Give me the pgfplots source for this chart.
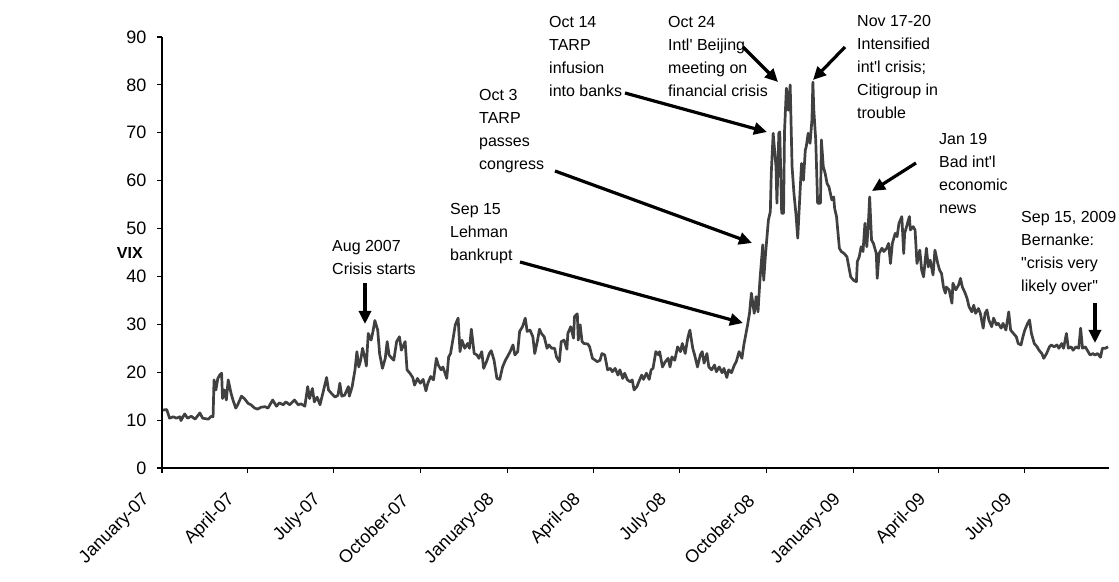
\documentclass[border=0pt]{standalone}
\usepackage{fontspec}
\setmainfont{Liberation Sans}[Ligatures=TeXOff]
\usepackage{pgfplots}
\pgfplotsset{compat=1.18}
\usetikzlibrary{arrows.meta}
\definecolor{vixline}{RGB}{64,64,64}

\begin{document}
\begin{tikzpicture}
\useasboundingbox (-162bp,-114bp) rectangle (957bp,468bp);
\begin{axis}[
    scale only axis,
    width=947bp, height=431bp,
    xmin=0, xmax=1001,
    ymin=0, ymax=90,
    axis x line*=bottom,
    axis y line*=left,
    axis line style={black, line width=1.3bp},
    tick align=outside,
    major tick length=5bp,
    tick style={black, line width=1.2bp},
    xtick={0,90,181,273,365,456,547,639,731,821,912},
    xticklabels={January-07,April-07,July-07,October-07,January-08,April-08,July-08,October-08,January-09,April-09,July-09},
    ytick={0,10,...,90},
    /pgf/number format/assume math mode=true,
    tick label style={font=\fontsize{18bp}{21bp}\selectfont},
    xticklabel style={xshift=-13bp, yshift=-22bp, rotate=45, anchor=east},
    yticklabel style={xshift=-7bp},
    ylabel={VIX},
    ylabel style={rotate=-90, font=\bfseries\fontsize{16bp}{19bp}\selectfont,
        at={(axis description cs:-0.034,0.5)}, anchor=center},
    clip=false,
]
\addplot[vixline, line width=2.7bp, line join=round] coordinates {
(1,12.1) (5,12.2) (8,10.4) (12,10.7) (15,10.4) (19,10.7) (20,9.9) (24,11.3)
(27,10.4) (31,10.8) (35,10.2) (40,11.5) (43,10.4) (49,10.2) (52,10.8) (54,10.7)
(55,18.4) (57,16.3) (59,18.7) (61,19.4) (63,19.8) (64,14.5) (66,16.3) (68,14.2)
(70,18.4) (73,15.6) (75,14.2) (78,12.5) (80,13.2) (84,15.0) (87,14.5) (91,13.5)
(94,13.2) (98,12.5) (101,12.3) (105,12.7) (109,12.8) (112,12.5) (117,14.2) (121,12.9)
(124,13.6) (128,13.2) (131,13.8) (135,13.2) (140,14.2) (144,13.2) (147,13.4) (151,12.9)
(154,17.0) (156,14.5) (159,16.6) (161,13.8) (164,14.8) (167,13.2) (170,15.6) (174,18.9)
(176,16.3) (179,15.6) (183,14.8) (186,15.2) (188,17.7) (190,15.0) (193,15.2) (197,17.0)
(198,15.0) (201,17.0) (204,20.5) (206,24.3) (208,21.1) (210,22.5) (212,25.0) (215,22.5)
(216,21.3) (218,28.1) (221,26.7) (223,28.5) (225,30.8) (228,28.8) (230,23.9) (233,20.8)
(236,22.9) (238,26.4) (240,23.6) (243,22.9) (245,22.5) (248,26.4) (251,27.4) (253,24.6)
(257,26.4) (259,20.5) (262,19.8) (265,18.9) (267,17.3) (270,18.7) (273,17.7) (276,18.5)
(279,16.1) (281,17.7) (284,19.1) (287,18.4) (290,22.9) (292,21.5) (295,20.5) (297,21.1)
(301,18.7) (303,23.2) (305,23.9) (308,27.4) (310,29.9) (313,31.3) (315,24.3) (317,26.7)
(320,25.0) (323,26.0) (325,25.0) (327,29.0) (330,23.9) (333,23.6) (335,22.9) (338,24.3)
(340,20.8) (343,22.2) (346,23.9) (348,24.5) (351,22.5) (354,18.7) (357,18.5) (360,21.1)
(363,22.5) (365,23.2) (368,24.3) (371,25.7) (373,23.6) (376,24.3) (378,28.5) (381,29.5)
(384,31.3) (386,28.5) (389,28.8) (392,27.4) (394,23.9) (397,26.7) (399,29.0) (401,28.1)
(404,27.4) (407,25.0) (409,25.7) (412,25.0) (415,25.0) (417,23.2) (420,22.2) (422,26.4)
(425,26.7) (428,24.8) (429,28.1) (432,29.5) (435,27.1) (436,31.6) (439,32.2) (440,26.7)
(442,29.9) (444,26.4) (446,26.0) (450,25.9) (452,25.3) (455,22.9) (458,22.5) (460,22.2)
(463,22.5) (465,23.9) (468,23.6) (471,20.5) (474,20.8) (476,20.1) (479,20.8) (482,19.4)
(484,20.5) (487,18.7) (489,19.8) (492,18.4) (495,18.0) (497,18.4) (499,16.3) (502,17.0)
(504,18.0) (507,19.4) (509,18.5) (512,19.8) (515,18.5) (517,20.5) (519,20.8) (522,24.3)
(525,23.6) (526,24.3) (529,21.1) (532,22.2) (535,22.9) (537,21.1) (539,23.2) (542,22.5)
(545,25.3) (548,24.3) (550,26.0) (553,23.9) (556,27.4) (558,28.8) (561,25.0) (563,23.6)
(566,21.1) (569,23.6) (571,24.3) (573,21.9) (576,23.9) (578,21.1) (581,20.5) (584,21.5)
(586,20.1) (589,21.1) (592,19.9) (594,20.8) (597,18.9) (599,20.5) (602,19.9) (605,21.5)
(607,22.2) (610,24.3) (613,22.9) (615,25.7) (619,29.9) (621,32.3) (623,36.5) (626,32.3)
(628,35.8) (630,32.6) (632,39.2) (635,46.6) (636,39.2) (638,44.8) (641,51.8) (643,53.5)
(644,61.5) (646,69.9) (649,62.9) (650,55.3) (652,69.9) (653,70.2) (655,53.2) (657,53.2)
(658,70.2) (660,79.3) (662,74.7) (664,80.0) (666,62.9) (668,57.3) (670,53.2) (672,48.0)
(674,56.0) (676,63.6) (678,60.1) (680,66.4) (681,67.1) (683,69.9) (685,67.8) (687,72.7)
(688,80.6) (689,74.7) (691,68.5) (693,55.3) (696,55.3) (697,68.5) (699,62.9) (701,61.5)
(703,59.4) (705,58.7) (708,56.0) (710,56.6) (711,54.2) (713,52.5) (716,45.9) (718,45.2)
(721,44.8) (724,44.1) (726,42.0) (728,39.9) (731,39.2) (734,38.9) (735,43.1) (737,44.1)
(739,46.2) (741,45.2) (743,51.1) (745,46.2) (747,52.5) (748,56.6) (750,47.6) (752,46.9)
(755,44.8) (756,39.6) (758,44.8) (761,45.9) (763,45.2) (766,45.9) (768,46.9) (770,42.7)
(772,46.9) (775,49.0) (777,48.3) (779,51.1) (782,52.5) (784,44.8) (785,49.0) (787,50.4)
(790,52.5) (791,49.7) (794,50.4) (796,49.7) (798,42.7) (801,45.5) (803,41.3) (805,39.9)
(808,45.9) (810,42.0) (812,43.4) (815,40.3) (817,45.5) (820,42.7) (822,41.3) (824,40.6)
(826,37.8) (828,36.5) (829,37.8) (832,37.2) (835,34.4) (836,38.6) (839,37.2) (842,38.2)
(844,39.6) (846,37.8) (849,36.5) (851,35.4) (853,33.7) (856,32.6) (858,34.0) (860,32.3)
(863,33.3) (865,32.3) (868,29.2) (870,32.3) (872,33.0) (874,30.9) (877,29.5) (879,31.3)
(882,29.9) (884,30.2) (887,29.2) (889,30.2) (892,28.8) (895,32.6) (897,28.8) (900,28.1)
(903,27.4) (905,26.0) (908,25.7) (910,27.4) (912,28.8) (915,30.2) (917,30.9) (919,28.1)
(922,26.0) (925,25.3) (927,24.6) (930,23.9) (932,22.9) (935,23.9) (938,25.3) (940,25.7)
(943,25.3) (946,25.7) (948,25.0) (951,26.0) (953,25.0) (956,28.1) (958,25.0) (961,25.3)
(963,24.6) (966,25.3) (969,25.0) (971,29.2) (973,25.0) (976,25.3) (978,24.6) (981,23.6)
(984,23.9) (986,23.6) (989,23.9) (992,23.1) (994,25.0) (997,25.0) (1000,25.3)
};
\end{axis}
\begin{scope}[x=1bp, y=-1bp, shift={(-162bp,468bp)},
    note/.style={anchor=north west, inner sep=0pt, align=left,
        font=\fontsize{16bp}{23bp}\selectfont},
    arr/.style={black, line width=3.2bp, -{Triangle[length=13bp,width=12bp]}}]
\node[note] at (332,240) {Aug 2007\\Crisis starts};
\draw[arr] (365,283) -- (365,324);
\node[note] at (450,203) {Sep 15\\Lehman\\bankrupt};
\draw[arr] (520,262) -- (743,323);
\node[note] at (479,89) {Oct 3\\TARP\\passes\\congress};
\draw[arr] (555,171) -- (752,243);
\node[note] at (549,16) {Oct 14\\TARP\\infusion\\into banks};
\draw[arr] (625,93) -- (767,132);
\node[note] at (668,16) {Oct 24\\Intl' Beijing\\meeting on\\financial crisis};
\draw[arr] (743,47) -- (778,82);
\node[note] at (857,15) {Nov 17-20\\Intensified\\int'l crisis;\\Citigroup in\\trouble};
\draw[arr] (845,47) -- (813,80);
\node[note] at (939,133) {Jan 19\\Bad int'l\\economic\\news};
\draw[arr] (916,163) -- (872,191);
\node[note] at (1021,211) {Sep 15, 2009\\Bernanke:\\"crisis very\\likely over"};
\draw[arr] (1095,303) -- (1095,343);
\end{scope}
\end{tikzpicture}
\end{document}
